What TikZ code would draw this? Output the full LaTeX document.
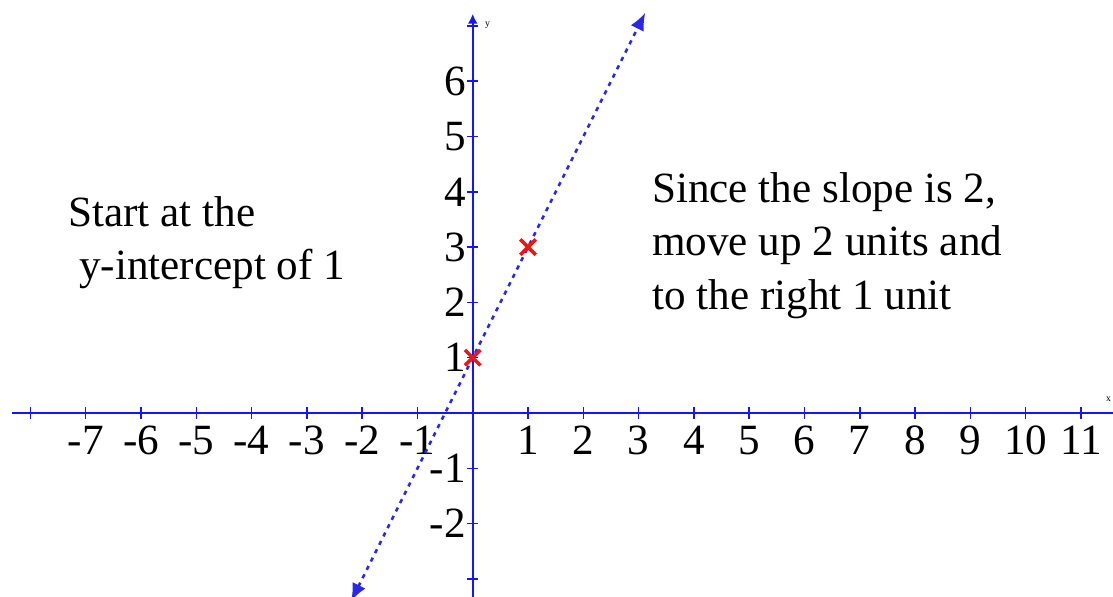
\documentclass[tikz,border=0pt]{standalone}
\usepackage{fontspec}
\setmainfont{Liberation Serif}
\usepackage{xcolor}
\usetikzlibrary{calc,arrows.meta,positioning}
\definecolor{axisBlue}{RGB}{20,20,255}
\definecolor{lineBlue}{RGB}{40,40,235}
\definecolor{markRed}{RGB}{240,20,20}
\newcommand{\labfont}{\fontsize{22.2}{27.5}\selectfont}

\begin{document}
\begin{tikzpicture}[
  axisline/.style={draw=axisBlue,line width=1pt},
  tickmark/.style={draw=axisBlue,line width=0.8pt},
  ticklab/.style={inner sep=0pt,font=\labfont},
  slopeline/.style={draw=lineBlue,line width=1.3pt,dash pattern=on 2.2pt off 2.6pt,
    {Latex[length=9pt,width=7.5pt]}-{Latex[length=9pt,width=7.5pt]}},
  crossmark/.style={draw=markRed,line width=1.8pt},
  notetext/.style={font=\labfont,align=left,inner sep=0pt}
]
\useasboundingbox (-8.55,-3.31) rectangle (11.58,7.47);

% axes
\coordinate (xLeft) at (-8.33,0);
\coordinate (xRight) at (11.58,0);
\coordinate (yLow) at (0,-3.4);
\coordinate (yTop) at (0,7.22);
\draw[axisline] (xLeft) -- (xRight);
\draw[axisline,-{Latex[length=5pt,width=5pt]}] (yLow) -- (yTop);

% ticks
\foreach \i in {-8,...,11}
  \draw[tickmark] (\i,-0.1) -- (\i,0.1);
\foreach \j in {-3,...,7}
  \draw[tickmark] (-0.1,\j) -- (0.1,\j);
\foreach \i in {-7,...,-1,1,2,...,11}
  \node[ticklab] (xlab\i) at (\i,-0.5) {\i};
\foreach \j in {-2,-1,1,2,...,6}
  \node[ticklab,anchor=east] (ylab\j) at (-0.12,\j) {\j};
\node[inner sep=0pt,font=\fontsize{5}{6}\selectfont] (yname) at (0.27,7.02) {y};
\node[inner sep=0pt,font=\fontsize{5}{6}\selectfont] (xname) at (11.5,0.25) {x};

% the line y = 2x + 1
\coordinate (lineLow) at (-2.2,-3.4);
\coordinate (lineTop) at (3.12,7.24);
\draw[slopeline] (lineLow) -- (lineTop);

% points
\coordinate (ptA) at (0,1);
\coordinate (ptB) at (1,3);
\foreach \p in {ptA,ptB}{
  \draw[crossmark] ($(\p)+(-0.14,-0.14)$) -- ($(\p)+(0.14,0.14)$);
  \draw[crossmark] ($(\p)+(-0.14,0.14)$) -- ($(\p)+(0.14,-0.14)$);
}

% notes
\node[notetext,anchor=west] (startNote) at (-7.32,3.08) {Start at the\\\hspace{0.25em}y-intercept of 1};
\node[notetext,anchor=west] (slopeNote) at (3.24,3.03) {Since the slope is 2,\\move up 2 units and\\to the right 1 unit};
\end{tikzpicture}
\end{document}
